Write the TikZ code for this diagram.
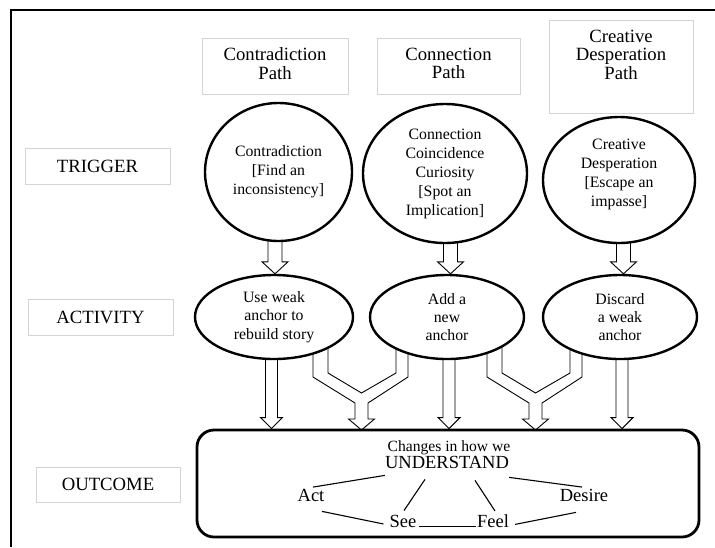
\documentclass[tikz,border=0pt]{standalone}
\usepackage{fontspec}
\setmainfont{Liberation Serif}
\usetikzlibrary{calc,backgrounds,shapes.geometric}
\begin{document}
\begin{tikzpicture}[x=1pt,y=-1pt,
  lab/.style={draw=black!17, line width=0.6pt, inner sep=0pt, font=\fontsize{18.7}{19}\selectfont, align=center},
  htext/.style={inner sep=0pt, font=\fontsize{18.7}{18.5}\selectfont, align=center},
  ctext/.style={inner sep=0pt, font=\fontsize{15.8}{19}\selectfont, align=center},
  trig/.style={draw, ellipse, line width=2.4pt, fill=white, inner sep=0pt, font=\fontsize{15.8}{19}\selectfont, align=center},
  actv/.style={draw, ellipse, line width=2.4pt, fill=white, inner sep=0pt, minimum height=84pt, font=\fontsize{15.8}{18.4}\selectfont, align=center},
  word/.style={inner sep=0pt, font=\fontsize{18.5}{20}\selectfont},
  wl/.style={line width=1.1pt},
  blk/.style n args={3}{draw, line width=0.9pt, to path={let \p1=(\tikztostart), \p2=(\tikztotarget) in (\x1-#1,\y1) -- (\x1-#1,\y2+#3) -- (\x1-#2,\y2+#3) -- (\x1,\y2) -- (\x1+#2,\y2+#3) -- (\x1+#1,\y2+#3) -- (\x1+#1,\y1) -- cycle}},
  ybr/.style={draw, line width=0.9pt}
]
\useasboundingbox (0,0) rectangle (715,547);
\draw[line width=2pt] (11,547) -- (11,10) -- (715,10);

% header boxes
\node[lab, minimum width=146pt, minimum height=56pt] (h1) at (275,66) {};
\node[htext] (h1t) at (275,63.5) {Contradiction\\Path};
\node[lab, minimum width=143pt, minimum height=56pt] (h2) at (448.5,66) {};
\node[htext] (h2t) at (448.5,63.5) {Connection\\Path};
\node[lab, minimum width=144pt, minimum height=93pt] (h3) at (621,66.5) {};
\node[htext] (h3t) at (621,54.5) {Creative\\Desperation\\Path};

% row labels
\node[lab, minimum width=145pt, minimum height=36pt] (tr) at (97.5,166) {TRIGGER};
\node[lab, minimum width=145pt, minimum height=36pt] (ac) at (100.5,317) {ACTIVITY};
\node[lab, minimum width=144pt, minimum height=35pt] (oc) at (108,484.5) {OUTCOME};

% triggers
\node[trig, minimum width=147pt, minimum height=138pt] (c1) at (278.5,172) {Contradiction\\{[}Find an\\inconsistency{]}};
\node[trig, minimum width=164pt, minimum height=139pt] (c2) at (445,173.5) {Connection\\Coincidence\\Curiosity\\{[}Spot an\\Implication{]}};
\node[trig, minimum width=152pt, minimum height=126pt] (c3) at (619,180) {};
\node[ctext] (c3t) at (619,174.5) {Creative\\Desperation\\{[}Escape an\\impasse{]}};

% activities
\node[actv, minimum width=158pt] (a1) at (274,317) {Use weak\\anchor to\\rebuild story};
\node[actv, minimum width=154pt] (a2) at (447,317) {Add a\\new\\anchor};
\node[actv, minimum width=154pt] (a3) at (620,317) {Discard\\a weak\\anchor};

% outcome
\node[draw, line width=2.8pt, rounded corners=17pt, minimum width=502pt, minimum height=107pt, inner sep=0pt] (out) at (448,483.5) {};
\node[inner sep=0pt, font=\fontsize{15.6}{18}\selectfont, anchor=base] (chg) at (449,451) {Changes in how we};
\node[word, anchor=base] (und) at (447,468) {UNDERSTAND};
\node[word, anchor=base] (actw) at (311,501.5) {Act};
\node[word, anchor=base] (des) at (584,501.5) {Desire};
\node[word, anchor=base] (see) at (403,527) {See};
\node[word, anchor=base] (feel) at (493,527) {Feel};

\draw[wl] ($(actw.north)+(2,-2)$) -- ($(und.south west)+(0,7)$);
\draw[wl] ($(und.south)+(-22,11)$) -- ($(see.north)+(1,-4)$);
\draw[wl] ($(und.south)+(28,12)$) -- ($(feel.north)+(2,-3)$);
\draw[wl] ($(und.south east)+(0,9)$) -- ($(des.north)+(-2,-2)$);
\draw[wl] ($(actw.south)+(11,9.5)$) -- ($(see.west)+(-6,3)$);
\draw[wl] ($(see.south east)+(2,-1)$) -- ($(feel.south west)+(-1,-1)$);
\draw[wl] ($(feel.south east)+(6,-3)$) -- ($(des.south)+(-8,10.5)$);

\begin{pgfonlayer}{background}
\draw[blk={7pt}{13pt}{12pt}] ($(c1.south)+(-3.5,-6)$) to (a1.north);
\draw[blk={7pt}{13pt}{12pt}] ($(c2.south)+(5.5,-6)$) to (a2.north);
\draw[blk={7pt}{13pt}{12pt}] ($(c3.south)+(4.5,-6)$) to (a3.north);
\draw[blk={6pt}{11pt}{11pt}] ($(a1.south)+(-2.5,-19)$) to (out.north);
\draw[blk={6pt}{11pt}{11pt}] ($(a2.south)+(2,-19)$) to (out.north);
\draw[blk={6pt}{11pt}{11pt}] ($(a3.south)+(2,-19)$) to (out.north);
\draw[ybr] (313,340) -- (313,377) -- (355,403) -- (355,419) -- (348.5,419) -- (361.5,430) -- (374.5,419) -- (368,419) -- (368,403) -- (408,377) -- (408,340) -- (396,340) -- (396,373) -- (361.5,393) -- (328,373) -- (328,340) -- cycle;
\draw[ybr] (487,340) -- (487,377) -- (529,403) -- (529,419) -- (522.5,419) -- (535.5,430) -- (548.5,419) -- (542,419) -- (542,403) -- (582,377) -- (582,340) -- (570,340) -- (570,373) -- (535.5,393) -- (502,373) -- (502,340) -- cycle;
\end{pgfonlayer}
\end{tikzpicture}
\end{document}
